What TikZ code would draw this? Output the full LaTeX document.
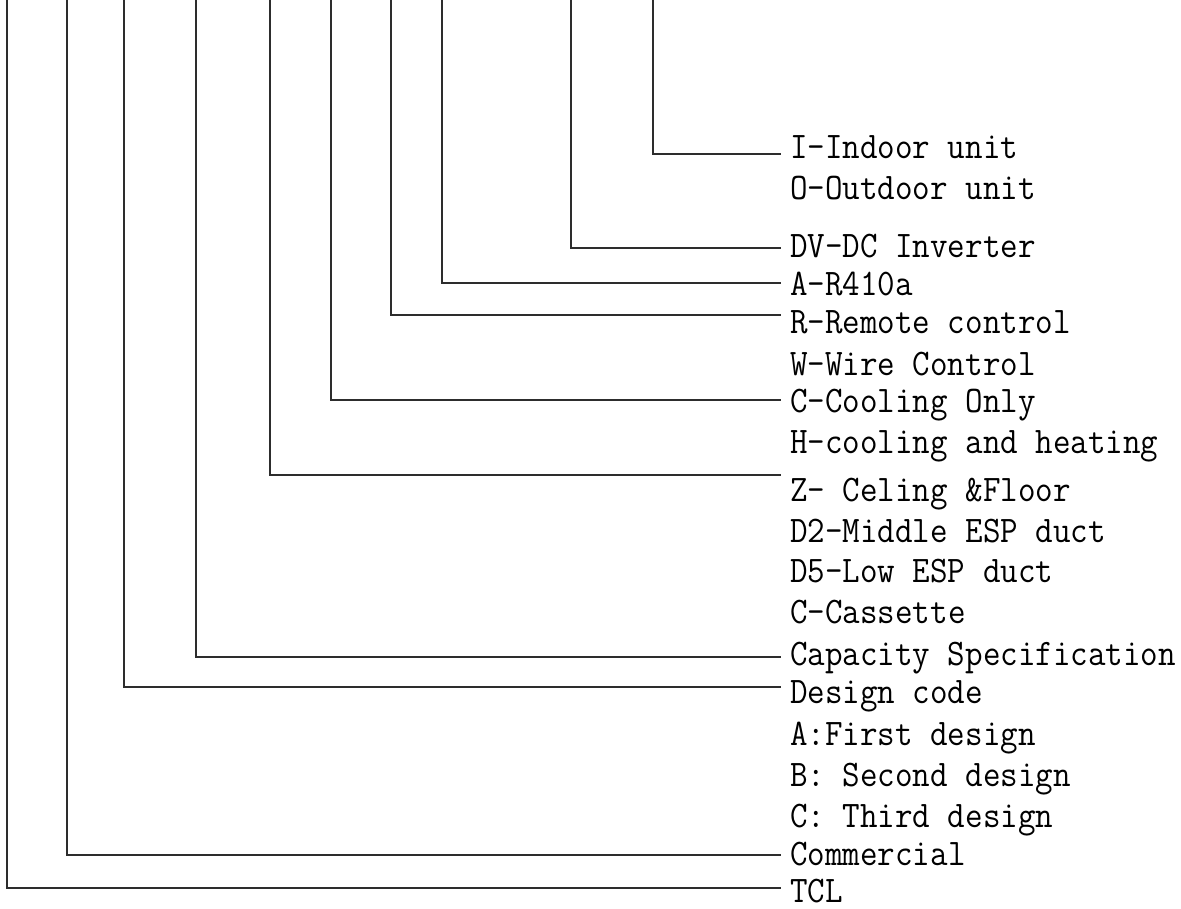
\documentclass[tikz,border=0pt]{standalone}
\usepackage{fontspec}
\newfontfamily\labelfont[FakeStretch=0.908]{Latin Modern Mono}
\begin{document}
\begin{tikzpicture}[x=1pt,y=-1pt,
  lbl/.style={anchor=base west, inner sep=0pt, font=\labelfont\fontsize{37.5}{40}\selectfont, text=black},
  leader/.style={draw={rgb,255:red,45;green,45;blue,45}, line width=2pt}]
\useasboundingbox (0,0) rectangle (1181,909);
% labels
\node[lbl] (lI)   at (790,159) {I-Indoor unit};
\node[lbl] (lO)   at (790,200) {O-Outdoor unit};
\node[lbl] (lDV)  at (790,258) {DV-DC Inverter};
\node[lbl] (lA)   at (790,296) {A-R410a};
\node[lbl] (lR)   at (790,334) {R-Remote control};
\node[lbl] (lW)   at (790,375) {W-Wire Control};
\node[lbl] (lC)   at (790,412) {C-Cooling Only};
\node[lbl] (lH)   at (790,453) {H-cooling and heating};
\node[lbl] (lZ)   at (790,501) {Z- Celing \&Floor};
\node[lbl] (lD2)  at (790,542) {D2-Middle ESP duct};
\node[lbl] (lD5)  at (790,582) {D5-Low ESP duct};
\node[lbl] (lCas) at (790,623) {C-Cassette};
\node[lbl] (lCap) at (790,665) {Capacity Specification};
\node[lbl] (lDes) at (790,703) {Design code};
\node[lbl] (lAF)  at (790,745) {A:First design};
\node[lbl] (lB)   at (790,786) {B: Second design};
\node[lbl] (lC3)  at (790,827) {C: Third design};
\node[lbl] (lCom) at (790,865) {Commercial};
\node[lbl] (lTCL) at (790,902) {TCL};
% top ends
\coordinate (tI)   at (653,-2);
\coordinate (tDV)  at (571,-2);
\coordinate (tA)   at (442,-2);
\coordinate (tR)   at (391,-2);
\coordinate (tC)   at (331,-2);
\coordinate (tZ)   at (270,-2);
\coordinate (tCap) at (196,-2);
\coordinate (tDes) at (124,-2);
\coordinate (tCom) at (67,-2);
\coordinate (tTCL) at (7,-2);
% right ends
\coordinate (eI)   at (781,154);
\coordinate (eDV)  at (781,248);
\coordinate (eA)   at (781,283);
\coordinate (eR)   at (781,315);
\coordinate (eC)   at (781,400);
\coordinate (eZ)   at (781,475);
\coordinate (eCap) at (781,657);
\coordinate (eDes) at (781,687);
\coordinate (eCom) at (781,855);
\coordinate (eTCL) at (781,888);
\foreach \k in {I,DV,A,R,C,Z,Cap,Des,Com,TCL}
  \draw[leader] (t\k) |- (e\k);
\end{tikzpicture}
\end{document}
